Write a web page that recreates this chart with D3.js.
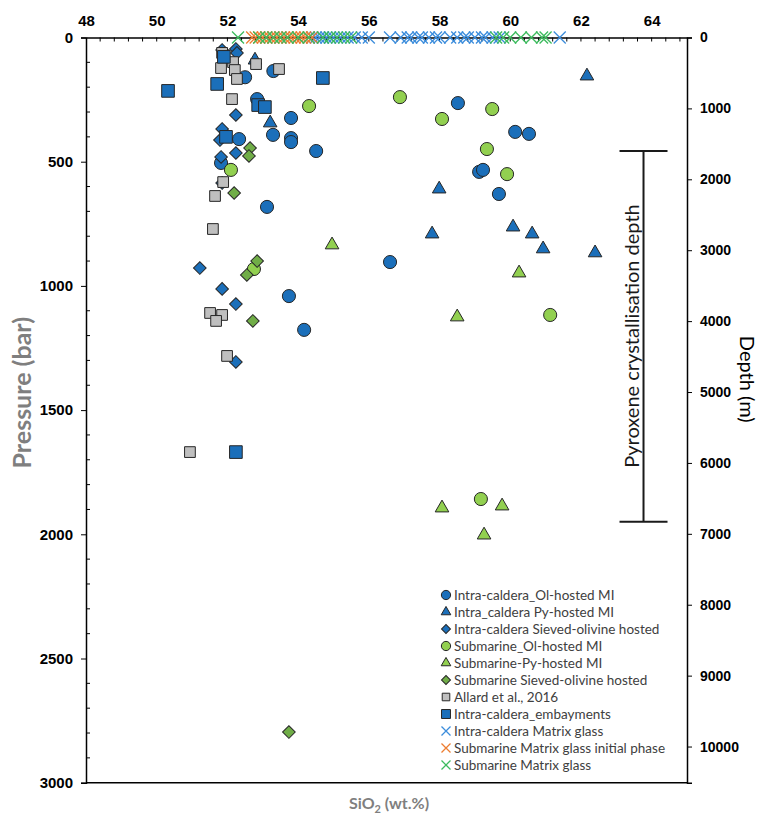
<!DOCTYPE html>
<html>
<head>
<meta charset="utf-8">
<script src="https://cdn.jsdelivr.net/npm/d3@7"></script>
<style>
  body { margin: 0; background: #fff; }
  svg { font-family: Lato, 'Open Sans', sans-serif; }
</style>
</head>
<body>
<svg id="chart" width="761" height="817"></svg>
<script>
// SiO2 (wt.%) vs pressure (bar) for each series
const intraOlSi = [52.5, 53.3, 52.84, 53.8, 53.29, 53.8, 53.8, 54.51, 52.33, 51.82, 53.12, 58.52, 60.14, 60.53, 59.12, 59.23, 59.68, 56.6, 53.74, 54.17]
const intraOlP = [160, 135, 248, 324, 392, 405, 421, 457, 409, 505, 682, 264, 380, 388, 541, 533, 630, 904, 1041, 1177]

const intraPySi = [52.78, 53.21, 62.17, 57.99, 57.79, 60.08, 60.62, 60.93, 62.4]
const intraPyP = [91, 344, 155, 610, 791, 763, 791, 851, 867]

const intraSvSi = [52.24, 52.27, 51.85, 52.24, 51.85, 51.79, 51.82, 52.24, 51.85, 51.22, 51.85, 52.24, 52.24]
const intraSvP = [46, 62, 50, 312, 368, 413, 481, 465, 586, 928, 1012, 1073, 1306]

const subOlSi = [56.88, 58.07, 59.49, 59.34, 59.91, 61.13, 54.31, 52.1, 52.75, 59.17]
const subOlP = [240, 328, 288, 449, 550, 1117, 276, 533, 932, 1858]

const subPySi = [54.96, 60.25, 58.5, 58.07, 59.77, 59.26]
const subPyP = [835, 948, 1125, 1894, 1886, 2003]

const subSvSi = [52.64, 52.61, 52.19, 52.84, 52.55, 52.72, 53.74]
const subSvP = [445, 477, 626, 900, 956, 1141, 2796]

const allardSi = [51.85, 52.16, 52.81, 53.46, 51.82, 52.21, 52.27, 52.13, 51.88, 51.65, 51.59, 51.51, 51.85, 51.68, 51.99, 50.94]
const allardP = [62, 99, 107, 127, 123, 131, 167, 248, 582, 638, 771, 1109, 1117, 1141, 1282, 1669]

const embaySi = [51.9, 51.71, 50.32, 54.7, 52.87, 53.06, 51.96, 52.24]
const embayP = [78, 187, 215, 163, 272, 280, 400, 1669]

// matrix glasses sit at 0 bar
const intraGlassSi = [54.4, 54.5, 54.6, 54.7, 54.8, 54.9, 55.0, 55.2, 55.4, 55.6, 55.8, 56.0, 56.6, 56.9, 57.1, 57.2, 57.4, 57.5, 57.7, 57.9, 58.0, 58.3, 58.5, 58.7, 58.8, 59.0, 59.2, 59.3, 59.5, 59.7, 61.4]
const subInitGlassSi = [52.7, 52.8, 52.9, 53.0, 53.1, 53.2, 53.3, 53.4, 53.5, 53.6, 53.7, 53.8, 53.9, 54.0, 54.1, 54.2, 54.3, 54.4]
const subGlassSi = [52.3, 52.9, 53.1, 53.3, 53.5, 53.7, 54.0, 54.3, 54.7, 54.9, 55.1, 55.3, 55.5, 59.6, 59.8, 60.0, 60.3, 60.6, 60.9, 61.0]

const xTicks = [48, 50, 52, 54, 56, 58, 60, 62, 64]
const pTicks = [0, 500, 1000, 1500, 2000, 2500, 3000]
const depthTicks = [0, 1000, 2000, 3000, 4000, 5000, 6000, 7000, 8000, 9000, 10000]

// pyroxene crystallisation depth range (m) at SiO2 position
const pyxDepth = [1600, 6830]
const pyxSi = 63.77

const svg = d3.select('#chart')
const x = d3.scaleLinear().domain([48, 65]).range([86, 687])
const y = d3.scaleLinear().domain([0, 3000]).range([37.5, 782.7])
const yDepth = d3.scaleLinear().domain([0, 10510]).range([37.5, 782.7])

const blue = '#1b6fba'
const green = '#92d050'
const darkGreen = '#70ad47'
const grey = '#bfbfbf'
const edge = '#262626'

// axes
const topAxis = svg.append('g').attr('transform', `translate(0,${y(0)})`)
  .call(d3.axisTop(x).tickValues(xTicks).tickSize(0).tickPadding(12).tickFormat(d3.format('d')))
topAxis.select('.domain').attr('stroke', '#000').attr('stroke-width', 1.5)
topAxis.selectAll('text').attr('font-size', 15).attr('font-weight', 700).attr('fill', '#000')
svg.append('g').selectAll('line').data(d3.range(48.4, 65, 0.4)).join('line')
  .attr('x1', (d) => x(d)).attr('x2', (d) => x(d))
  .attr('y1', y(0)).attr('y2', y(0) + 4)
  .attr('stroke', '#000').attr('stroke-width', 1)

const leftAxis = svg.append('g').attr('transform', `translate(${x(48)},0)`)
  .call(d3.axisLeft(y).tickValues(pTicks).tickSize(5).tickPadding(8).tickFormat(d3.format('d')))
leftAxis.select('.domain').attr('stroke', '#000').attr('stroke-width', 1.5)
leftAxis.selectAll('line').attr('stroke', '#000')
leftAxis.selectAll('text').attr('font-size', 15).attr('font-weight', 700).attr('fill', '#000')
svg.append('g').selectAll('line').data(d3.range(100, 3000, 100).filter((d) => d % 500)).join('line')
  .attr('x1', x(48)).attr('x2', x(48) + 4)
  .attr('y1', (d) => y(d)).attr('y2', (d) => y(d))
  .attr('stroke', '#000').attr('stroke-width', 1)

const rightAxis = svg.append('g').attr('transform', `translate(${x(65)},0)`)
  .call(d3.axisRight(yDepth).tickValues(depthTicks).tickSize(5).tickPadding(8).tickFormat(d3.format('d')))
rightAxis.select('.domain').attr('stroke', '#000').attr('stroke-width', 1.5)
rightAxis.selectAll('line').attr('stroke', '#000')
rightAxis.selectAll('text').attr('font-size', 14).attr('font-weight', 700).attr('fill', '#000')

svg.append('line')
  .attr('x1', x(48)).attr('x2', x(65)).attr('y1', y(3000)).attr('y2', y(3000))
  .attr('stroke', '#000').attr('stroke-width', 1.5)

// axis titles
svg.append('text')
  .attr('transform', `translate(31,${y(1430)}) rotate(-90)`)
  .attr('text-anchor', 'middle')
  .attr('font-size', 25).attr('font-weight', 700).attr('fill', '#7f7f7f')
  .text('Pressure (bar)')

svg.append('text')
  .attr('transform', `translate(740,${yDepth(4820)}) rotate(90)`)
  .attr('text-anchor', 'middle')
  .attr('font-size', 20).attr('fill', '#000')
  .text('Depth (m)')

const sio2 = svg.append('text')
  .attr('x', 389).attr('y', 809)
  .attr('text-anchor', 'middle')
  .attr('font-size', 16).attr('font-weight', 700).attr('fill', '#7f7f7f')
sio2.append('tspan').text('SiO')
sio2.append('tspan').attr('font-size', 11).attr('dy', 4).text('2')
sio2.append('tspan').attr('dy', -4).text(' (wt.%)')

// pyroxene crystallisation depth bar
const pyx = svg.append('g').attr('stroke', '#1a1a1a').attr('stroke-width', 2)
pyx.append('line')
  .attr('x1', x(pyxSi)).attr('x2', x(pyxSi))
  .attr('y1', yDepth(pyxDepth[0])).attr('y2', yDepth(pyxDepth[1]))
pyxDepth.forEach((d) => {
  pyx.append('line')
    .attr('x1', x(pyxSi) - 24).attr('x2', x(pyxSi) + 24)
    .attr('y1', yDepth(d)).attr('y2', yDepth(d))
})
svg.append('text')
  .attr('transform', `translate(${x(pyxSi) - 5},${yDepth(4210)}) rotate(-90)`)
  .attr('text-anchor', 'middle')
  .attr('font-size', 20).attr('fill', '#1a1a1a')
  .text('Pyroxene crystallisation depth')

// series
const series = [
  { name: 'Intra-caldera_Ol-hosted MI', si: intraOlSi, p: intraOlP, shape: d3.symbolCircle, size: 135, fill: blue },
  { name: 'Intra_caldera Py-hosted MI', si: intraPySi, p: intraPyP, shape: d3.symbolTriangle, size: 80, fill: blue },
  { name: 'Intra-caldera Sieved-olivine hosted', si: intraSvSi, p: intraSvP, shape: d3.symbolSquare, size: 80, fill: blue, rot: 45 },
  { name: 'Submarine_Ol-hosted MI', si: subOlSi, p: subOlP, shape: d3.symbolCircle, size: 135, fill: green },
  { name: 'Submarine-Py-hosted MI', si: subPySi, p: subPyP, shape: d3.symbolTriangle, size: 80, fill: green },
  { name: 'Submarine Sieved-olivine hosted', si: subSvSi, p: subSvP, shape: d3.symbolSquare, size: 80, fill: darkGreen, rot: 45 },
  { name: 'Allard et al., 2016', si: allardSi, p: allardP, shape: d3.symbolSquare, size: 115, fill: grey },
  { name: 'Intra-caldera_embayments', si: embaySi, p: embayP, shape: d3.symbolSquare, size: 160, fill: blue }
]
const glasses = [
  { name: 'Intra-caldera Matrix glass', si: intraGlassSi, color: '#3c8ddc' },
  { name: 'Submarine Matrix glass initial phase', si: subInitGlassSi, color: '#ed7d31' },
  { name: 'Submarine Matrix glass', si: subGlassSi, color: '#3dbb5e' }
]

series.forEach((s) => {
  svg.append('g').selectAll('path').data(s.si).join('path')
    .attr('d', d3.symbol(s.shape, s.size))
    .attr('transform', (d, i) => `translate(${x(d)},${y(s.p[i])}) rotate(${s.rot || 0})`)
    .attr('fill', s.fill).attr('stroke', edge).attr('stroke-width', 1)
})

const crossPath = (r) => `M${-r},${-r}L${r},${r}M${-r},${r}L${r},${-r}`
glasses.forEach((g) => {
  svg.append('g').selectAll('path').data(g.si).join('path')
    .attr('d', crossPath(6))
    .attr('transform', (d) => `translate(${x(d)},${y(0)})`)
    .attr('fill', 'none').attr('stroke', g.color).attr('stroke-width', 1.3)
})

// legend
const legend = svg.append('g').attr('transform', 'translate(446,595)')
const rows = legend.selectAll('g').data([...series, ...glasses]).join('g')
  .attr('transform', (d, i) => `translate(0,${i * 17})`)
rows.filter((d) => d.shape).append('path')
  .attr('d', (d) => d3.symbol(d.shape, d.size * 0.5)())
  .attr('transform', (d) => `rotate(${d.rot || 0})`)
  .attr('fill', (d) => d.fill).attr('stroke', edge).attr('stroke-width', 1)
rows.filter((d) => d.color).append('path')
  .attr('d', crossPath(4.5))
  .attr('fill', 'none').attr('stroke', (d) => d.color).attr('stroke-width', 1.3)
rows.append('text')
  .attr('x', 8).attr('dy', '0.35em')
  .attr('font-size', 13.5).attr('fill', '#404040')
  .text((d) => d.name)
</script>
</body>
</html>
